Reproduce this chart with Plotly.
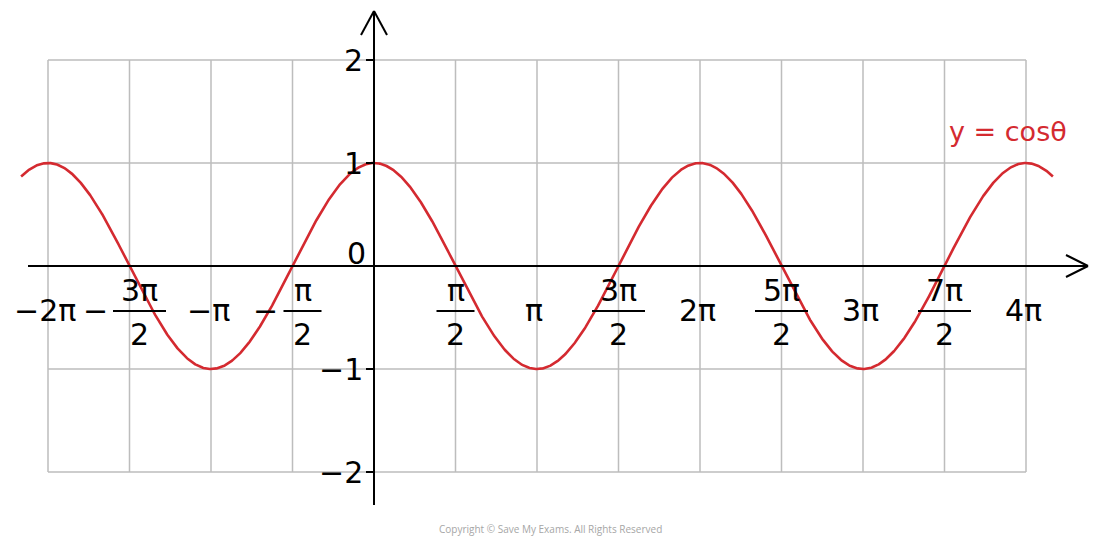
import numpy as np
import plotly.graph_objects as go

PI = np.pi
# ---- data ----
x_tick_units = [-4, -3, -2, -1, 1, 2, 3, 4, 5, 6, 7, 8]          # multiples of pi/2
x_tick_labels = ["−2π", "−3π/2", "−π", "−π/2", "π/2", "π", "3π/2", "2π", "5π/2", "3π", "7π/2", "4π"]
y_tick_values = [2, 1, 0, -1, -2]
y_tick_labels = ["2", "1", "0", "−1", "−2"]
curve_label = "y = cosθ"
theta_start_units, theta_end_units = -4.33, 8.33

# ---- geometry (pixels) ----
W, H = 1100, 547
OX, OY = 374, 266          # pixel position of origin
SX, SY = 81.5, 103.0       # px per pi/2, px per unit y

def xd(px):  # pixel -> data x
    return (px - OX) / SX * PI / 2

def yd(py):
    return (OY - py) / SY

theta = np.linspace(theta_start_units * PI / 2, theta_end_units * PI / 2, 1500)
y = np.cos(theta)

RED = "#d42a30"
GRID = "#bdbdbd"
FONT = "DejaVu Sans"

fig = go.Figure()
fig.add_trace(go.Scatter(x=theta, y=y, mode="lines",
                         line=dict(color=RED, width=2.6), hoverinfo="skip", showlegend=False))

shapes = []
# grid
for k in range(-4, 9):
    shapes.append(dict(type="line", x0=k * PI / 2, x1=k * PI / 2, y0=-2, y1=2,
                       line=dict(color=GRID, width=1.5), layer="below"))
for v in y_tick_values:
    shapes.append(dict(type="line", x0=-2 * PI, x1=4 * PI, y0=v, y1=v,
                       line=dict(color=GRID, width=1.5), layer="below"))
# axes
AX = dict(color="black", width=2)
shapes.append(dict(type="line", x0=xd(28), x1=xd(1088), y0=0, y1=0, line=AX))
shapes.append(dict(type="line", x0=xd(1066), x1=xd(1088), y0=yd(255), y1=0, line=AX))
shapes.append(dict(type="line", x0=xd(1066), x1=xd(1088), y0=yd(277), y1=0, line=AX))
shapes.append(dict(type="line", x0=0, x1=0, y0=yd(505), y1=yd(11), line=AX))
shapes.append(dict(type="line", x0=xd(361), x1=0, y0=yd(35), y1=yd(11), line=AX))
shapes.append(dict(type="line", x0=xd(387), x1=0, y0=yd(35), y1=yd(11), line=AX))
# y tick marks
for v in y_tick_values:
    if v != 0:
        shapes.append(dict(type="line", x0=xd(366), x1=0, y0=v, y1=v, line=AX))

annotations = []
FS = 30
for u, lab in zip(x_tick_units, x_tick_labels):
    xv = u * PI / 2
    if "/" in lab:
        neg = lab.startswith("−")
        body = lab[1:] if neg else lab
        num, den = body.split("/")
        bw = 38 if len(num) == 1 else 53
        cx = 10 if neg else 0
        annotations.append(dict(x=xv, y=0, text=num, showarrow=False, xshift=cx, yshift=-24,
                                font=dict(family=FONT, size=FS, color="black"),
                                xanchor="center", yanchor="middle"))
        annotations.append(dict(x=xv, y=0, text=den, showarrow=False, xshift=cx, yshift=-68,
                                font=dict(family=FONT, size=FS, color="black"),
                                xanchor="center", yanchor="middle"))
        shapes.append(dict(type="line", xref="x", yref="y", xsizemode="pixel", ysizemode="pixel",
                           xanchor=xv, yanchor=0, x0=cx - bw / 2, x1=cx + bw / 2, y0=-45, y1=-45,
                           line=dict(color="black", width=1.8)))
        if neg:
            annotations.append(dict(x=xv, y=0, text="−", showarrow=False,
                                    xshift=cx - bw / 2 - 18, yshift=-44,
                                    font=dict(family=FONT, size=FS, color="black"),
                                    xanchor="center", yanchor="middle"))
    else:
        annotations.append(dict(x=xv, y=0, text=lab, showarrow=False, xshift=-3, yshift=-44,
                                font=dict(family=FONT, size=FS, color="black"),
                                xanchor="center", yanchor="middle"))

for v, lab in zip(y_tick_values, y_tick_labels):
    if v == 0:
        annotations.append(dict(x=0, y=0, text=lab, showarrow=False, xshift=-18, yshift=13,
                                font=dict(family=FONT, size=FS, color="black"),
                                xanchor="center", yanchor="middle"))
    else:
        annotations.append(dict(x=0, y=v, text=lab, showarrow=False, xshift=-9, yshift=0,
                                font=dict(family=FONT, size=FS, color="black"),
                                xanchor="right", yanchor="middle"))

annotations.append(dict(x=1008 / W, y=1 - 131 / H, xref="paper", yref="paper", text=curve_label,
                        showarrow=False, font=dict(family=FONT, size=27, color=RED),
                        xanchor="center", yanchor="middle"))
annotations.append(dict(x=550 / W, y=1 - 529 / H, xref="paper", yref="paper",
                        text="Copyright © Save My Exams. All Rights Reserved",
                        showarrow=False, font=dict(family="Open Sans", size=10, color="#a6a6a6"),
                        xanchor="center", yanchor="middle"))

fig.update_layout(
    width=W, height=H, margin=dict(l=0, r=0, t=0, b=0),
    paper_bgcolor="white", plot_bgcolor="white",
    xaxis=dict(range=[xd(0), xd(W)], visible=False, fixedrange=True),
    yaxis=dict(range=[yd(H), yd(0)], visible=False, fixedrange=True),
    shapes=shapes, annotations=annotations, showlegend=False,
)
fig.write_html("out.html")
